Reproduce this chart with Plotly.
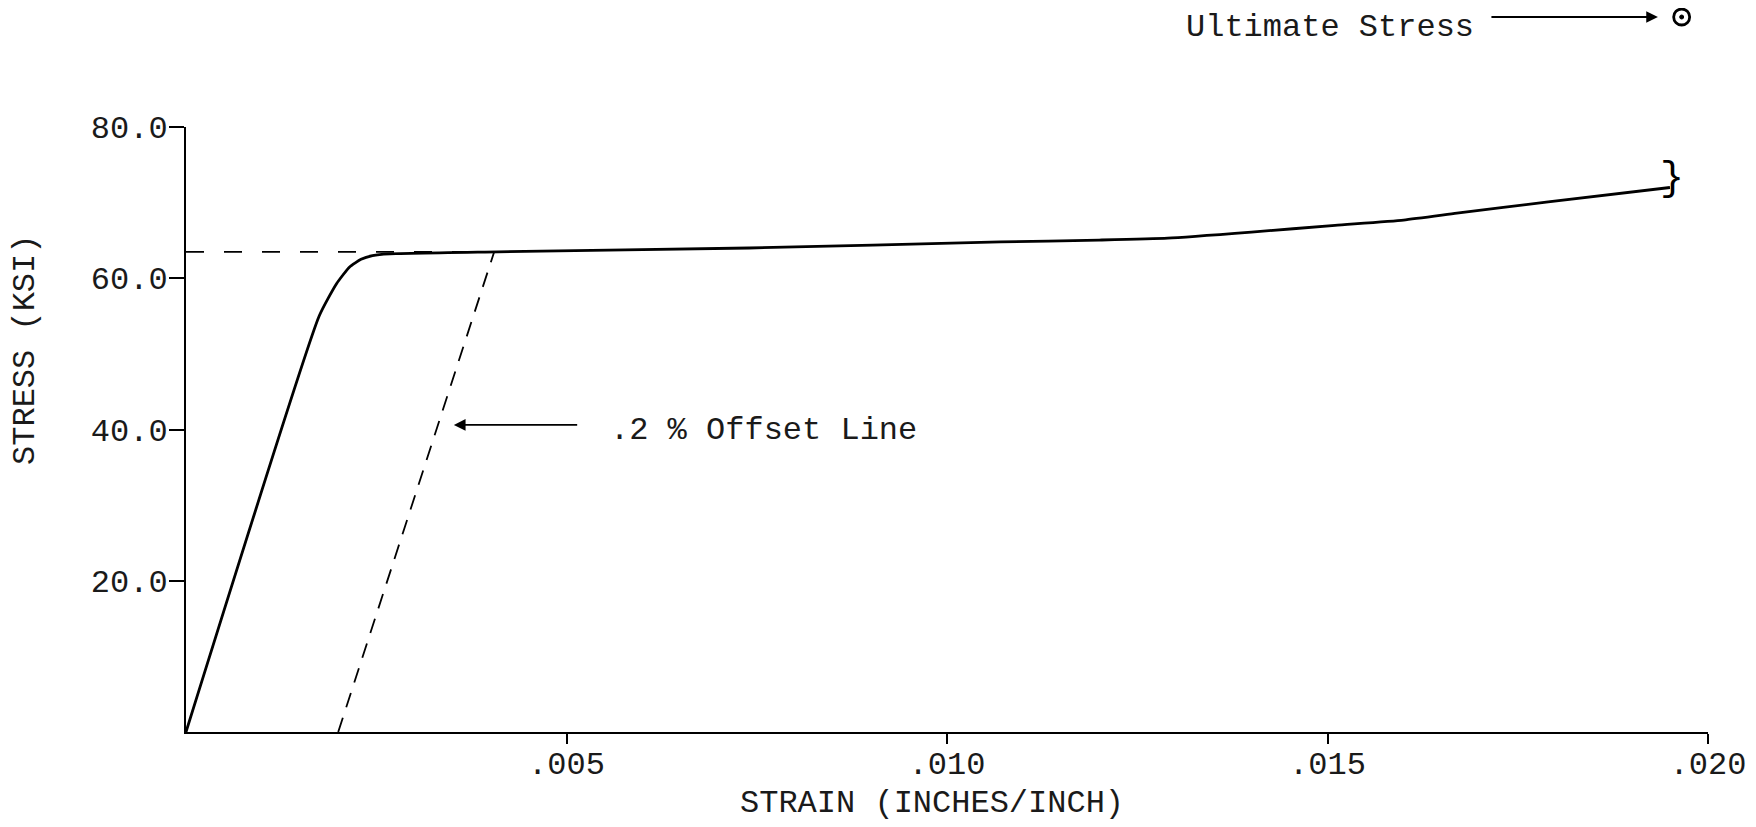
import plotly.graph_objects as go

# stress-strain curve
strain = [0, 0.00175, 0.00198, 0.00215, 0.0023, 0.00245, 0.0026, 0.0041,
          0.0074, 0.0107, 0.0120, 0.0129, 0.0140, 0.0151, 0.0160, 0.0167, 0.0179, 0.0195]
stress = [0, 55.0, 59.3, 61.5, 62.5, 63.0, 63.2, 63.5,
          64.0, 64.8, 65.05, 65.3, 66.1, 67.0, 67.7, 68.6, 70.1, 72.0]

# .2 % offset line and yield level
offset_strain = [0.0020, 0.00405]
offset_stress = [0, 63.5]
yield_strain = [0, 0.0041]
yield_stress = [63.5, 63.5]

xtick_vals = [0.005, 0.010, 0.015, 0.020]
xtick_text = ['.005', '.010', '.015', '.020']
ytick_vals = [20, 40, 60, 80]
ytick_text = ['20.0', '40.0', '60.0', '80.0']

FONT = 'Liberation Mono'
INK = '#1a1a1a'

fig = go.Figure()
fig.add_trace(go.Scatter(x=strain, y=stress, mode='lines',
                         line=dict(color='black', width=2.8, shape='spline', smoothing=0.5),
                         showlegend=False))
fig.add_trace(go.Scatter(x=offset_strain, y=offset_stress, mode='lines',
                         line=dict(color='black', width=1.8, dash='15px,11px'),
                         showlegend=False))
fig.add_trace(go.Scatter(x=yield_strain, y=yield_stress, mode='lines',
                         line=dict(color='black', width=1.8, dash='18px,20px'),
                         showlegend=False))

# ultimate stress marker sits above the scale (paper coords)
ult_x, ult_y = 0.9827, 1.1818
fig.add_shape(type='circle', xref='paper', yref='paper',
              xsizemode='pixel', ysizemode='pixel', xanchor=ult_x, yanchor=ult_y,
              x0=-8, x1=8, y0=-8, y1=8, line=dict(color='black', width=2.8),
              fillcolor='white')
fig.add_shape(type='circle', xref='paper', yref='paper',
              xsizemode='pixel', ysizemode='pixel', xanchor=ult_x, yanchor=ult_y,
              x0=-2, x1=2, y0=-2, y1=2, line=dict(color='black', width=1),
              fillcolor='black')

fig.update_layout(
    width=1756, height=827,
    margin=dict(l=178, r=56, t=119, b=103),
    paper_bgcolor='white', plot_bgcolor='white',
    font=dict(family=FONT, size=32, color=INK),
    xaxis=dict(range=[0, 0.02], tickvals=xtick_vals, ticktext=xtick_text,
               showline=True, linecolor='black', linewidth=2,
               ticks='outside', ticklen=10, tickwidth=2, tickcolor='black',
               ticklabelstandoff=-8,
               showgrid=False, zeroline=False),
    yaxis=dict(range=[0, 80], tickvals=ytick_vals, ticktext=ytick_text,
               showline=True, linecolor='black', linewidth=2,
               ticks='outside', ticklen=15, tickwidth=2, tickcolor='black',
               ticklabelstandoff=-5,
               showgrid=False, zeroline=False),
    annotations=[
        dict(x=0.4901, y=-0.119, xref='paper', yref='paper', text='STRAIN (INCHES/INCH)',
             showarrow=False, xanchor='center', yanchor='middle'),
        dict(x=-0.1058, y=0.6314, xref='paper', yref='paper', text='STRESS (KSI)',
             textangle=-90, showarrow=False, xanchor='center', yanchor='middle'),
        dict(x=0.00352, y=40.6, ax=0.00516, ay=40.6, xref='x', yref='y',
             axref='x', ayref='y', text='', showarrow=True, arrowhead=2,
             arrowsize=1.3, arrowwidth=1.8, arrowcolor='black'),
        dict(x=0.00554, y=39.9, xref='x', yref='y', text='.2 % Offset Line',
             showarrow=False, xanchor='left', yanchor='middle'),
        dict(x=0.9671, y=1.1818, ax=-168, ay=0, xref='paper', yref='paper',
             axref='pixel', ayref='pixel', text='', showarrow=True, arrowhead=2,
             arrowsize=1.3, arrowwidth=1.8, arrowcolor='black'),
        dict(x=0.6557, y=1.1645, xref='paper', yref='paper', text='Ultimate Stress',
             showarrow=False, xanchor='left', yanchor='middle'),
        dict(x=0.01953, y=73.0, xref='x', yref='y', text='}',
             showarrow=False, xanchor='center', yanchor='middle',
             font=dict(family=FONT, size=40, color='black')),
    ],
)

fig.write_html('out.html')
